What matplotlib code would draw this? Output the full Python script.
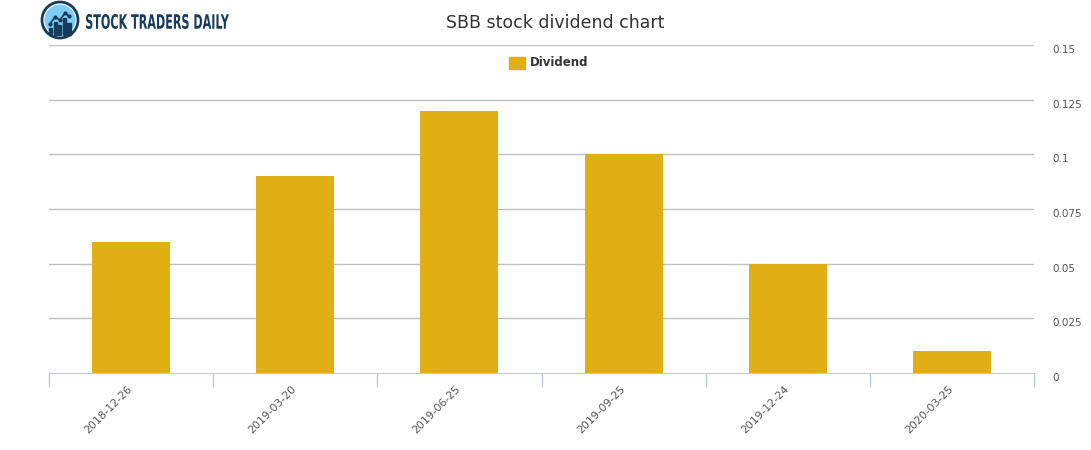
import matplotlib.pyplot as plt
from matplotlib.patches import Circle, Rectangle, PathPatch
from matplotlib.textpath import TextPath
from matplotlib.font_manager import FontProperties
from matplotlib.transforms import Affine2D, IdentityTransform

dates = ['2018-12-26', '2019-03-20', '2019-06-25', '2019-09-25', '2019-12-24', '2020-03-25']
dividends = [0.06, 0.09, 0.12, 0.10, 0.05, 0.01]
yticks = [0, 0.025, 0.05, 0.075, 0.1, 0.125, 0.15]
ytick_labels = ['0', '0.025', '0.05', '0.075', '0.1', '0.125', '0.15']

bar_color = '#DFAF14'
navy = '#173b5c'
W, H = 1091, 450

fig = plt.figure(figsize=(W / 100, H / 100), dpi=100)
ax = fig.add_axes([49 / W, 1 - 373 / H, 985 / W, 328 / H])

x = range(len(dates))
ax.bar(x, dividends, width=0.475, color=bar_color, zorder=3)

ax.set_xlim(-0.5, len(dates) - 0.5)
ax.set_ylim(0, 0.15)

# grid lines
for v in yticks[1:]:
    ax.axhline(v, color='#c0c0c0', lw=1, zorder=1)

ax.yaxis.tick_right()
ax.set_yticks(yticks)
ax.set_yticklabels(ytick_labels)
ax.tick_params(axis='y', length=0, pad=13, labelsize=7.5, labelcolor='#555555')
for lab in ax.get_yticklabels():
    lab.set_va('top')

# category ticks on boundaries
ax.set_xticks([i - 0.5 for i in range(len(dates) + 1)])
ax.set_xticklabels([])
ax.tick_params(axis='x', length=10, color='#c0cad6', width=1)

# date labels under each bar
for i, d in enumerate(dates):
    ax.annotate(d, xy=(i, 0), xycoords=('data', 'axes fraction'),
                xytext=(-4, -11), textcoords='offset pixels',
                rotation=45, ha='right', va='top', rotation_mode='anchor',
                fontsize=7.8, color='#555555')

for s in ['top', 'left', 'right']:
    ax.spines[s].set_visible(False)
ax.spines['bottom'].set_color('#c0cad6')

# title
fig.text(555 / W, 1 - 23 / H, 'SBB stock dividend chart', ha='center',
         va='center', fontsize=12.5, color='#333333')

# legend
fig.patches.append(Rectangle((509 / W, 1 - 69 / H), 16 / W, 12 / H,
                             transform=fig.transFigure, color=bar_color))
fig.text(530 / W, 1 - 63 / H, 'Dividend', ha='left', va='center',
         fontsize=8.5, fontweight='bold', color='#333333')

# logo
lax = fig.add_axes([40 / W, 1 - 40 / H, 40 / W, 40 / H])
lax.set_xlim(-20, 20)
lax.set_ylim(-20, 20)
lax.set_aspect('equal')
lax.axis('off')
lax.add_patch(Circle((0, 0), 18, facecolor='white', edgecolor=navy, lw=2))
lax.add_patch(Circle((0, 0), 15.5, facecolor='#7fcdf3', edgecolor='none'))
for i, h in enumerate([7, 13, 10, 17, 12]):
    lax.add_patch(Rectangle((-11 + i * 4.6, -15), 3.2, h, color=navy))
lax.plot([-10, -5, 0, 5, 9], [-4, 3, 0, 7, 4], color=navy, lw=1.2,
         marker='o', ms=2)

# condensed logo text, squeezed to fit
tp = TextPath((0, 0), 'STOCK TRADERS DAILY', size=20,
              prop=FontProperties(family='DejaVu Sans', weight='bold'))
ext = tp.get_extents()
sx = 143 / ext.width
sy = 15 / ext.height
tr = Affine2D().translate(-ext.x0, -ext.y0).scale(sx, sy).translate(86, H - 29)
fig.patches.append(PathPatch(tr.transform_path(tp), facecolor=navy,
                             edgecolor='none', transform=IdentityTransform()))

fig.savefig('out.png', dpi=100)
